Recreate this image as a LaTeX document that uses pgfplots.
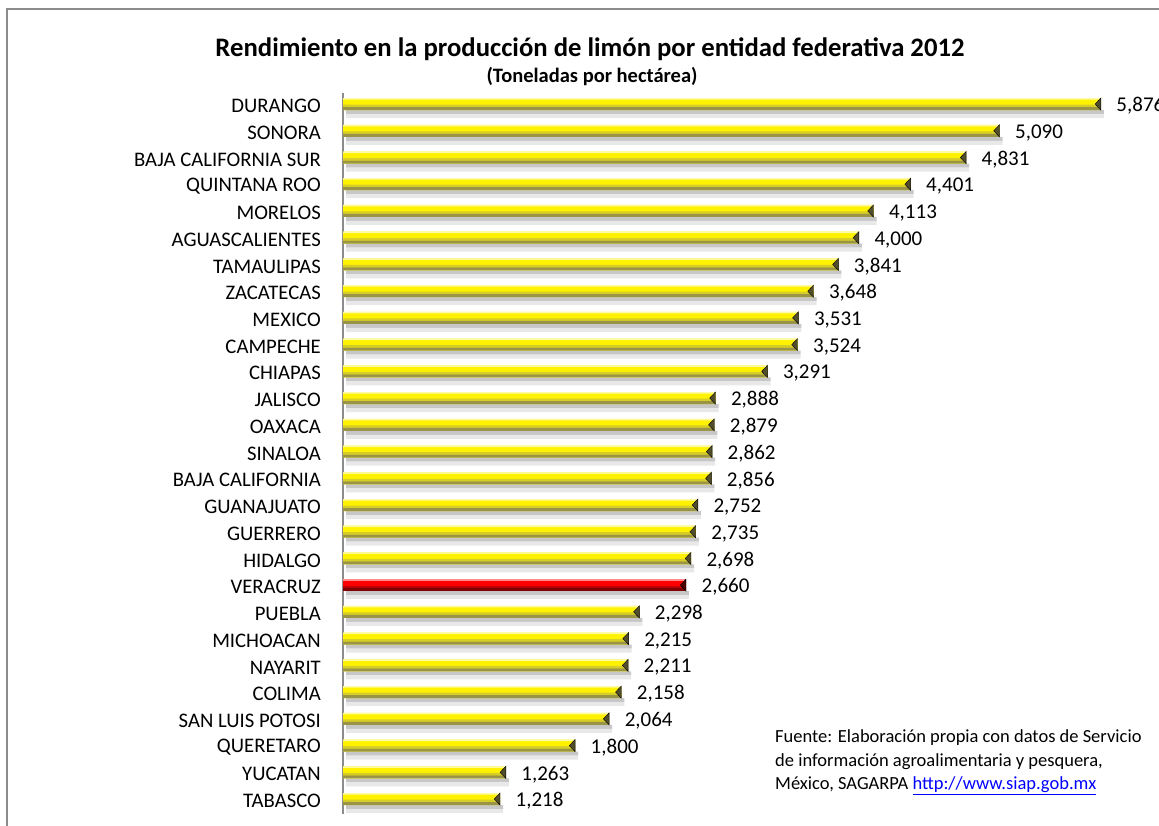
\documentclass[border=0pt]{standalone}
\usepackage{pgfplots}
\usepackage{pgfplotstable}
\pgfplotsset{compat=1.18}
\usepackage{fontspec}
\setmainfont{Carlito}

\pgfplotstableread{
y v
0 1.218
1 1.263
2 1.800
3 2.064
4 2.158
5 2.211
6 2.215
7 2.298
9 2.698
10 2.735
11 2.752
12 2.856
13 2.862
14 2.879
15 2.888
16 3.291
17 3.524
18 3.531
19 3.648
20 3.841
21 4.000
22 4.113
23 4.401
24 4.831
25 5.090
26 5.876
}\yellowdata

\pgfplotstableread{
y v
8 2.660
}\reddata

\begin{document}
\begin{tikzpicture}[x=1pt,y=1pt]
\path[use as bounding box] (0,0) rectangle (1159,826);
\fill[white] (0,0) rectangle (1159,826);
\draw[black!45, line width=1.5pt] (7,0) -- (7,817) -- (1159,817);
\node[font=\fontsize{26.7}{31}\selectfont\bfseries] at (590,777) {Rendimiento en la producción de limón por entidad federativa 2012};
\node[font=\fontsize{20.5}{24}\selectfont\bfseries] at (592,749) {(Toneladas por hectárea)};
\node[anchor=base west, align=left, inner sep=0pt, font=\fontsize{18.5}{23.5}\selectfont] at (775,36)
  {Fuente: Elaboración propia con datos de Servicio\\de información agroalimentaria y pesquera,\\México, SAGARPA \textcolor{blue}{\underline{http://www.siap.gob.mx}}};
\begin{axis}[
  at={(343pt,11.6pt)}, anchor=south west,
  scale only axis, width=816pt, height=721.7pt,
  xmin=0, xmax=6.326, ymin=-0.5, ymax=26.5,
  hide x axis,
  axis y line*=left,
  y axis line style={-, draw=black!45, line width=1.5pt},
  major tick length=0pt,
  ytick={0,...,26},
  yticklabels={TABASCO, YUCATAN, QUERETARO, SAN LUIS POTOSI, COLIMA, NAYARIT, MICHOACAN, PUEBLA, VERACRUZ, HIDALGO, GUERRERO, GUANAJUATO, BAJA CALIFORNIA, SINALOA, OAXACA, JALISCO, CHIAPAS, CAMPECHE, MEXICO, ZACATECAS, TAMAULIPAS, AGUASCALIENTES, MORELOS, QUINTANA ROO, BAJA CALIFORNIA SUR, SONORA, DURANGO},
  yticklabel style={font=\fontsize{20.7}{24}\selectfont, anchor=east, inner sep=0pt, xshift=-22pt},
  clip=false,
  point meta=x,
  /pgf/number format/.cd, fixed, fixed zerofill, precision=3, use comma, assume math mode=true,
]
% shadows
\addplot[xbar, bar width=4pt, bar shift=-6pt, draw=none, fill=black!22, xshift=3pt] table[x=v, y=y] {\yellowdata};
\addplot[xbar, bar width=4pt, bar shift=-10pt, draw=none, fill=black!9, xshift=3pt] table[x=v, y=y] {\yellowdata};
\addplot[xbar, bar width=4pt, bar shift=-6pt, draw=none, fill=black!22, xshift=3pt] table[x=v, y=y] {\reddata};
\addplot[xbar, bar width=4pt, bar shift=-10pt, draw=none, fill=black!9, xshift=3pt] table[x=v, y=y] {\reddata};
% yellow bars (cylinder bands)
\addplot[xbar, bar width=12pt, bar shift=2pt, draw=none, fill=yellow] table[x=v, y=y] {\yellowdata};
\addplot[xbar, bar width=1.5pt, bar shift=7.25pt, draw=none, fill=yellow!35!white] table[x=v, y=y] {\yellowdata};
\addplot[xbar, bar width=2.5pt, bar shift=0.25pt, draw=none, fill=yellow!82!black] table[x=v, y=y] {\yellowdata};
\addplot[xbar, bar width=3pt, bar shift=-2.5pt, draw=none, fill=yellow!55!black] table[x=v, y=y] {\yellowdata};
% red bar
\addplot[xbar, bar width=12pt, bar shift=2pt, draw=none, fill=red] table[x=v, y=y] {\reddata};
\addplot[xbar, bar width=1.5pt, bar shift=7.25pt, draw=none, fill=red!45!white] table[x=v, y=y] {\reddata};
\addplot[xbar, bar width=2.5pt, bar shift=0.25pt, draw=none, fill=red!75!black] table[x=v, y=y] {\reddata};
\addplot[xbar, bar width=3pt, bar shift=-2.5pt, draw=none, fill=red!50!black] table[x=v, y=y] {\reddata};
% end caps
\addplot[only marks, mark=triangle*, mark size=7pt, mark options={yshift=2pt, xshift=-2pt, xscale=0.55, rotate=90, fill=olive!45!black, draw=none}] table[x=v, y=y] {\yellowdata};
\addplot[only marks, mark=triangle*, mark size=7pt, mark options={yshift=2pt, xshift=-2pt, xscale=0.55, rotate=90, fill=red!30!black, draw=none}] table[x=v, y=y] {\reddata};
% value labels
\addplot[draw=none, mark=none, nodes near coords,
  every node near coord/.style={anchor=west, xshift=12pt, text=black, font=\fontsize{21}{24}\selectfont}]
  table[x=v, y=y] {\yellowdata};
\addplot[draw=none, mark=none, nodes near coords,
  every node near coord/.style={anchor=west, xshift=12pt, text=black, font=\fontsize{21}{24}\selectfont}]
  table[x=v, y=y] {\reddata};
\end{axis}
\end{tikzpicture}
\end{document}
